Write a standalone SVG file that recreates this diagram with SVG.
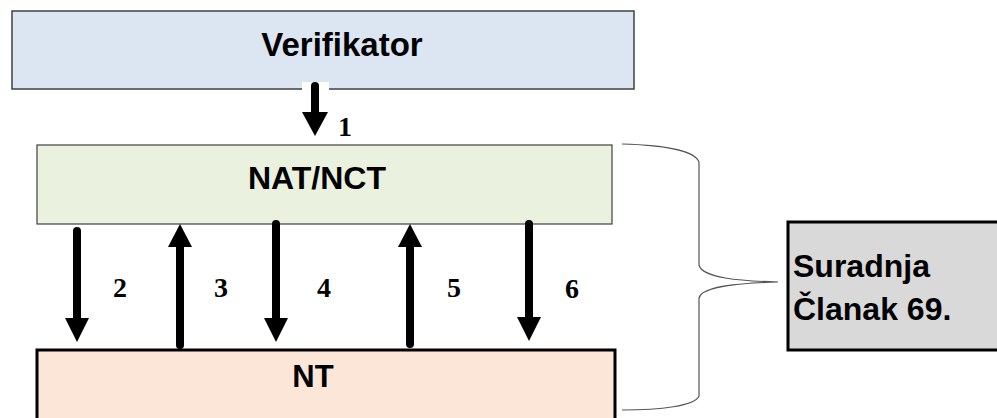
<svg xmlns="http://www.w3.org/2000/svg" width="997" height="418" viewBox="0 0 997 418">
<style>
.lbl{font-family:"Liberation Sans",Arial,sans-serif;font-weight:bold;fill:#000;text-anchor:middle}
.lft{text-anchor:start}
.num{font-family:"Liberation Serif","Times New Roman",serif;font-weight:bold;font-size:28px;fill:#000;text-anchor:middle}
.shaft{stroke:#000;stroke-width:8;stroke-linecap:round;fill:none}
.head{fill:#000}
</style>
<rect width="997" height="418" fill="#fff"/>
<g id="verifikator">
<rect x="12" y="11" width="622" height="78" fill="#dce6f2" stroke="#404040" stroke-width="1.5"/>
<text class="lbl" x="342" y="56" font-size="33">Verifikator</text>
</g>
<g id="natnct">
<rect x="37" y="145" width="575" height="79" fill="#ebf1df" stroke="#404040" stroke-width="1.2"/>
<text class="lbl" x="317" y="189" font-size="32">NAT/NCT</text>
</g>
<g id="nt">
<rect x="37" y="350" width="578" height="80" fill="#fce6d7" stroke="#000" stroke-width="3"/>
<text class="lbl" x="313" y="387" font-size="31">NT</text>
</g>
<g id="suradnja">
<rect x="788" y="222" width="220" height="128" fill="#d9d9d9" stroke="#000" stroke-width="3"/>
<text class="lbl lft" x="793" y="277" font-size="32">Suradnja</text>
<text class="lbl lft" x="793" y="320" font-size="32">Članak 69.</text>
</g>
<g id="connectors">
<rect x="302" y="82" width="27" height="8" fill="#fff"/>
<line class="shaft" x1="315" y1="86" x2="315" y2="114"/>
<polygon class="head" points="302,112 328,112 315,136"/>
<text class="num" x="345" y="136">1</text>

<line class="shaft" x1="77" y1="231" x2="77" y2="320"/>
<polygon class="head" points="65,318 89,318 77,342"/>
<text class="num" x="120" y="297">2</text>

<line class="shaft" x1="180" y1="345" x2="180" y2="245"/>
<polygon class="head" points="168,247 192,247 180,224"/>
<text class="num" x="221" y="297">3</text>

<line class="shaft" x1="276" y1="224" x2="276" y2="320"/>
<polygon class="head" points="264,318 288,318 276,342"/>
<text class="num" x="324" y="297">4</text>

<line class="shaft" x1="410" y1="344" x2="410" y2="245"/>
<polygon class="head" points="398,247 422,247 410,224"/>
<text class="num" x="454" y="297">5</text>

<line class="shaft" x1="529" y1="224" x2="529" y2="319"/>
<polygon class="head" points="517,317 541,317 529,341"/>
<text class="num" x="572" y="298">6</text>

<path d="M622,144 C660,145 695,150 699,162 L699,265 C702,278 740,281 778,282 C740,283 702,286 699,298 L699,396 C695,406 660,410 622,410" fill="none" stroke="#555" stroke-width="1.2"/>
</g>
</svg>
